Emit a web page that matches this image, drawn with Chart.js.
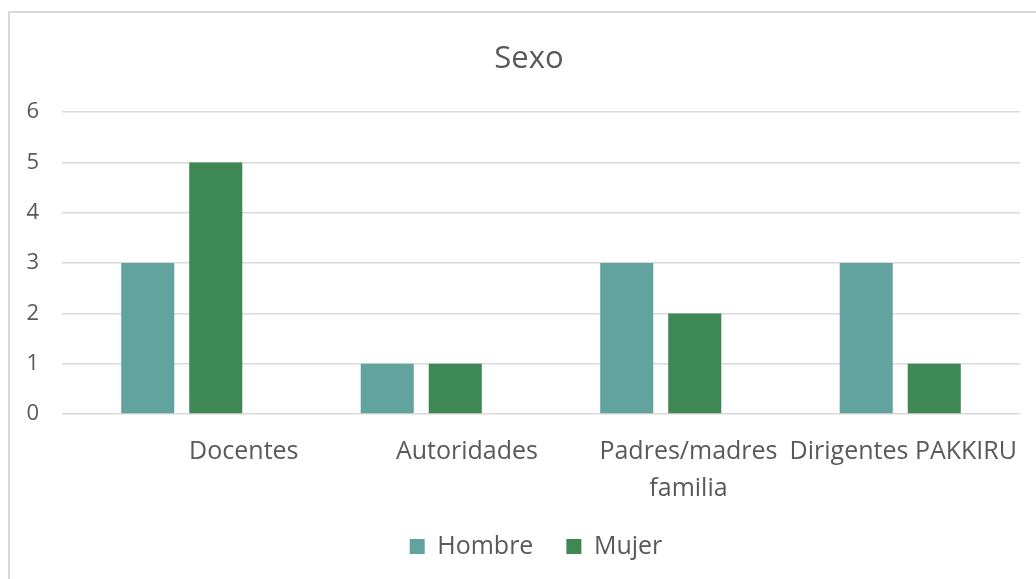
<!DOCTYPE html>
<html>
<head>
<meta charset="utf-8">
<script src="https://cdn.jsdelivr.net/npm/chart.js@4"></script>
<style>
  html, body { margin: 0; padding: 0; background: #fff; overflow: hidden; }
  #frame { position: absolute; left: 8px; top: 11px; width: 1100px; height: 700px; border: 2px solid #d9d9d9; }
  #wrap { position: absolute; left: 0; top: 0; width: 1036px; height: 579px; }
</style>
</head>
<body>
<div id="frame"></div>
<div id="wrap"><canvas id="sexoChart"></canvas></div>
<script>
// data
const categories = [['Docentes'], ['Autoridades'], ['Padres/madres', 'familia'], ['Dirigentes PAKKIRU']];
const hombre = [3, 1, 3, 3];
const mujer = [5, 1, 2, 1];
const yTicks = [0, 1, 2, 3, 4, 5, 6];

const textColor = '#595959';
const fontFamily = '"Open Sans", sans-serif';

// Excel puts the category labels as a block whose right edge sits near the end of the category,
// with the lines centred inside the block
const xLabels = {
    id: 'xLabels',
    afterDraw(chart) {
        const ctx = chart.ctx;
        const scale = chart.scales.x;
        const half = (scale.getPixelForTick(1) - scale.getPixelForTick(0)) / 2;
        ctx.save();
        ctx.font = '25px ' + fontFamily;
        ctx.fillStyle = textColor;
        ctx.textAlign = 'center';
        ctx.textBaseline = 'middle';
        chart.data.labels.forEach(function (lines, i) {
            const w = Math.max.apply(null, lines.map(l => ctx.measureText(l).width));
            const cx = scale.getPixelForTick(i) + half - 3 - w / 2;
            lines.forEach(function (l, j) {
                ctx.fillText(l, cx, scale.top + 38 + j * 37);
            });
        });
        ctx.restore();
    }
};

// title and legend sit a bit right of the canvas centre in the original
const nudge = {
    id: 'nudge',
    afterLayout(chart) {
        if (chart.titleBlock) { chart.titleBlock.left += 19; chart.titleBlock.right += 19; }
        if (chart.legend) { chart.legend.left += 26; chart.legend.right += 26; }
    }
};

new Chart(document.getElementById('sexoChart'), {
    type: 'bar',
    data: {
        labels: categories,
        datasets: [{
            label: 'Hombre',
            data: hombre,
            backgroundColor: '#62A39F',
            categoryPercentage: 0.568,
            barPercentage: 0.78
        }, {
            label: 'Mujer',
            data: mujer,
            backgroundColor: '#3D8854',
            categoryPercentage: 0.568,
            barPercentage: 0.78
        }]
    },
    options: {
        responsive: true,
        maintainAspectRatio: false,
        animation: false,
        layout: {
            padding: { left: 0, right: 16, top: 0, bottom: 10 }
        },
        plugins: {
            title: {
                display: true,
                text: 'Sexo',
                color: textColor,
                font: { family: fontFamily, size: 31, weight: 'normal' },
                padding: { top: 41, bottom: 34 }
            },
            legend: {
                position: 'bottom',
                labels: {
                    color: textColor,
                    font: { family: fontFamily, size: 25 },
                    boxWidth: 15,
                    boxHeight: 15,
                    padding: 33
                }
            },
            tooltip: { enabled: false }
        },
        scales: {
            x: {
                grid: { display: false },
                border: { display: false },
                ticks: { display: false },
                afterFit: function (s) { s.height = 87; }
            },
            y: {
                min: yTicks[0],
                max: yTicks[yTicks.length - 1],
                afterBuildTicks: function (s) { s.ticks = yTicks.map(v => ({ value: v })); },
                grid: { color: '#d9d9d9', lineWidth: 1.5, drawTicks: false },
                border: { display: false },
                ticks: {
                    color: textColor,
                    font: { family: fontFamily, size: 22 },
                    padding: 23
                },
                afterFit: function (s) { s.width = 62; }
            }
        }
    },
    plugins: [xLabels, nudge]
});
</script>
</body>
</html>
